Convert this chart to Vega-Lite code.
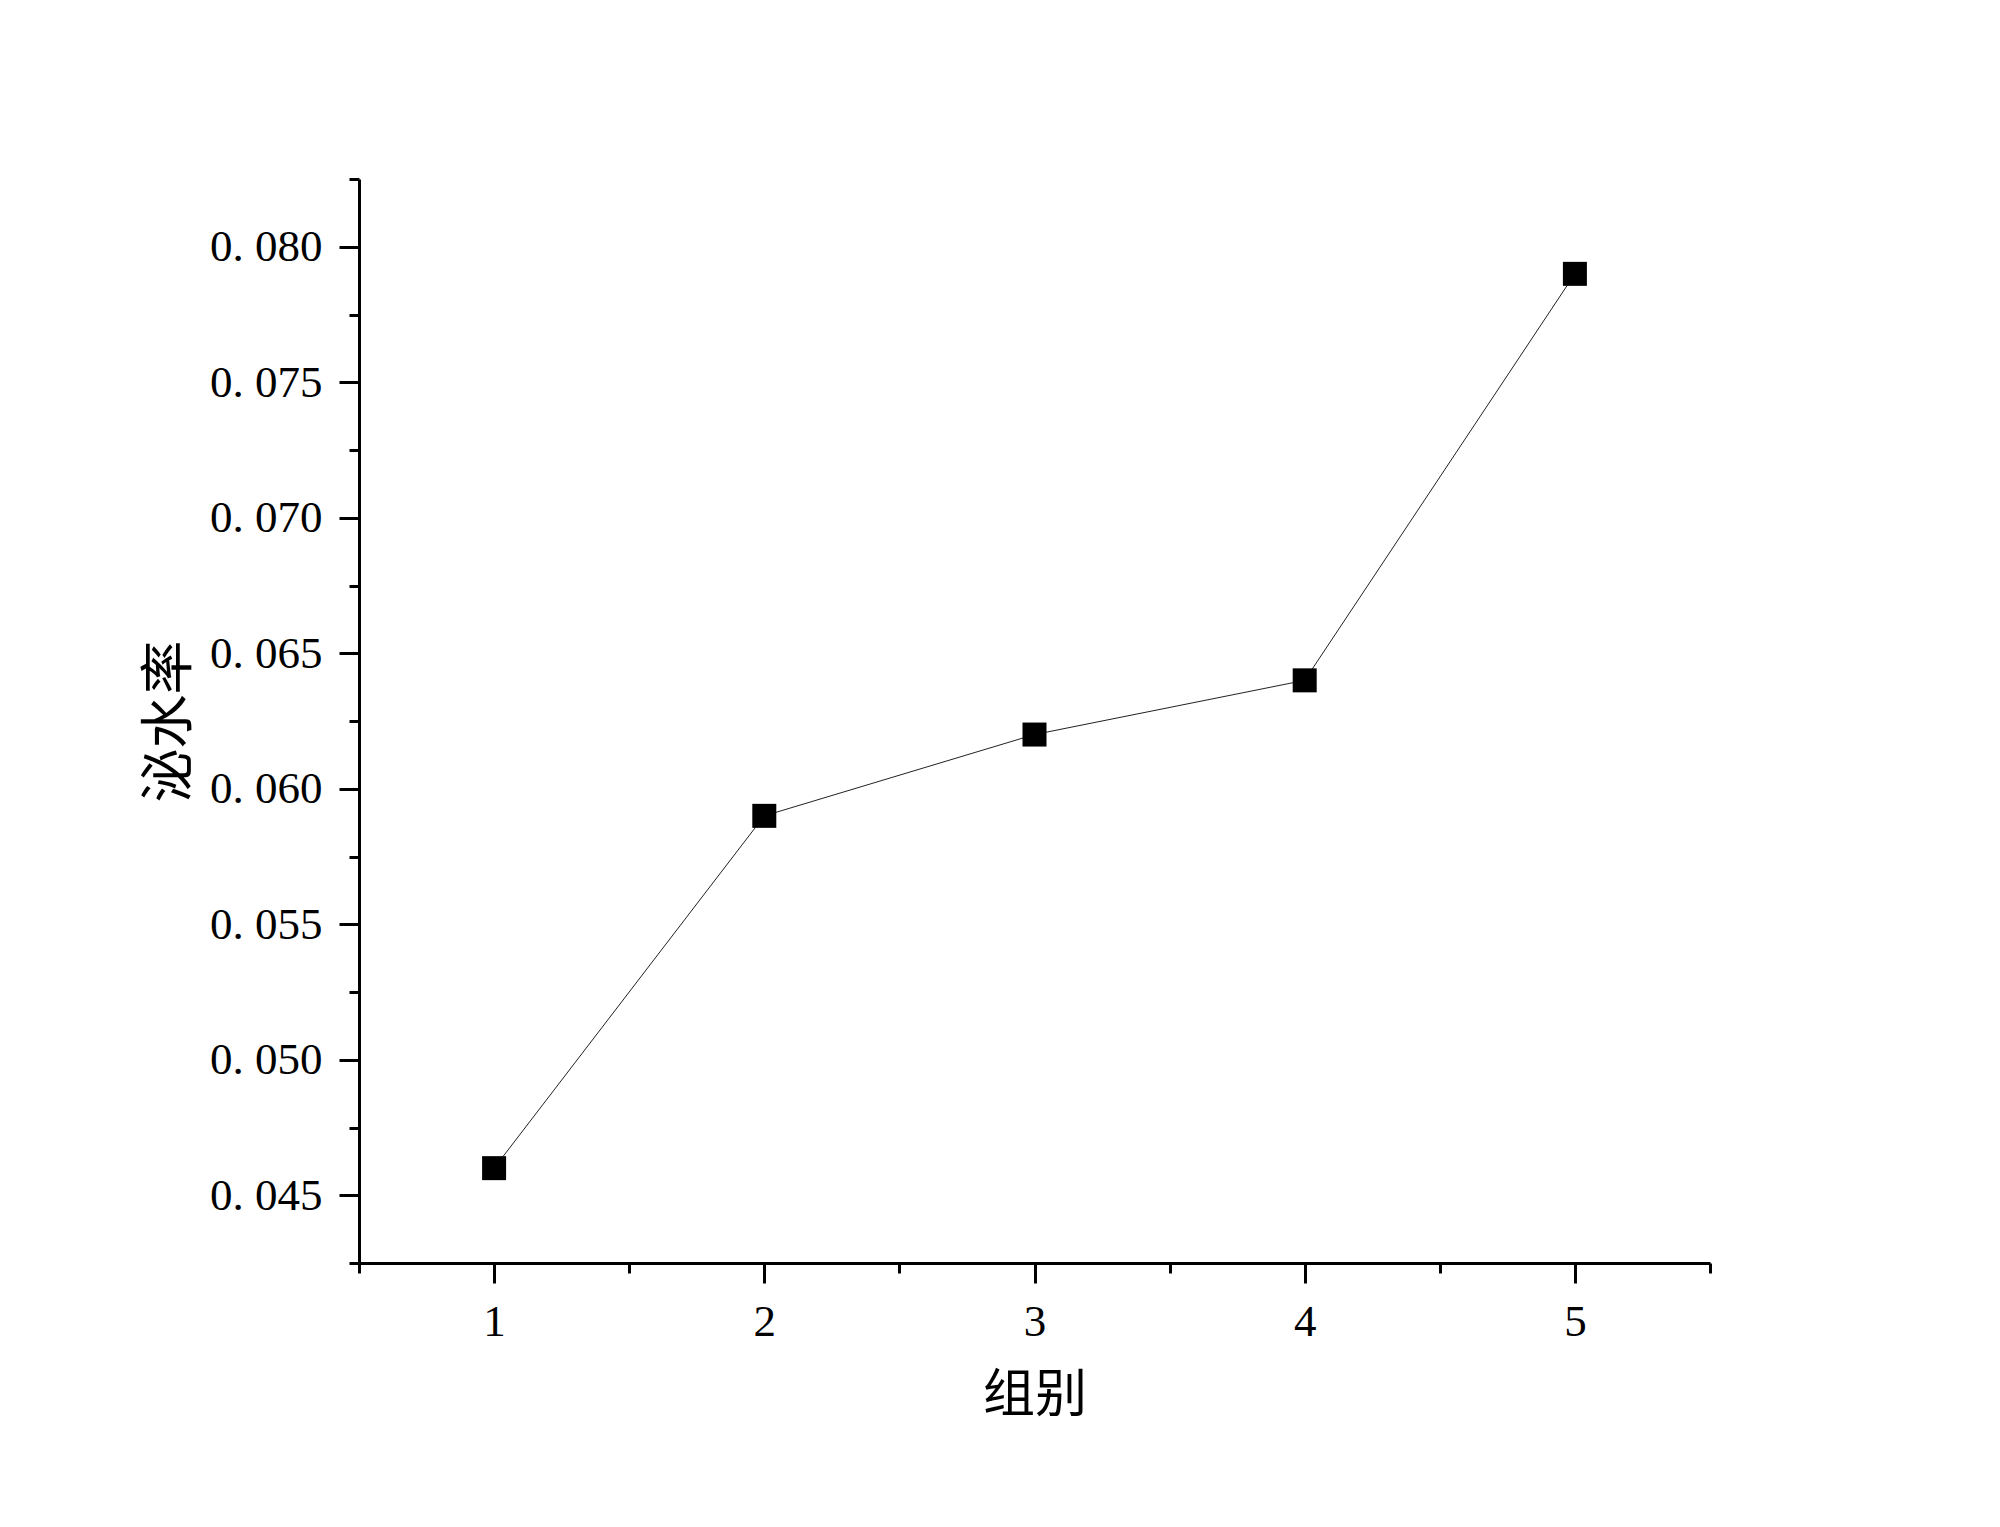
{
  "$schema": "https://vega.github.io/schema/vega-lite/v6.json",
  "width": 1351,
  "height": 1084,
  "autosize": "none",
  "padding": {"left": 359, "top": 179, "right": 290, "bottom": 264},
  "background": "white",
  "config": {"view": {"stroke": null}},
  "data": {"values": [
    {"group": 1, "rate": 0.046},
    {"group": 2, "rate": 0.059},
    {"group": 3, "rate": 0.062},
    {"group": 4, "rate": 0.064},
    {"group": 5, "rate": 0.079}
  ]},
  "encoding": {
    "x": {
      "field": "group", "type": "quantitative",
      "scale": {"domain": [0.5, 5.5], "nice": false, "zero": false},
      "axis": {
        "title": "组别",
        "values": [0.5, 1, 1.5, 2, 2.5, 3, 3.5, 4, 4.5, 5, 5.5],
        "labelExpr": "datum.value % 1 == 0 ? format(datum.value, 'd') : ''",
        "labelFont": "Liberation Serif",
        "labelFontSize": 45,
        "labelColor": "black",
        "labelPadding": 16,
        "labelOverlap": false,
        "labelFlush": false,
        "tickColor": "black",
        "tickWidth": 3,
        "tickSize": {"condition": {"test": "datum.value % 1 == 0", "value": 20}, "value": 10},
        "domainColor": "black",
        "domainWidth": 3,
        "grid": false,
        "titleFont": "Noto Sans CJK SC",
        "titleFontSize": 52,
        "titleFontWeight": "normal",
        "titleColor": "black",
        "titlePadding": 26
      }
    },
    "y": {
      "field": "rate", "type": "quantitative",
      "scale": {"domain": [0.0425, 0.0825], "nice": false, "zero": false},
      "axis": {
        "title": "泌水率",
        "values": [0.0425, 0.045, 0.0475, 0.05, 0.0525, 0.055, 0.0575, 0.06, 0.0625, 0.065, 0.0675, 0.07, 0.0725, 0.075, 0.0775, 0.08, 0.0825],
        "labelExpr": "abs(datum.value*200 - round(datum.value*200)) < 0.001 ? replace(format(datum.value, '.3f'), '.', '. ') : ''",
        "labelFont": "Liberation Serif",
        "labelFontSize": 45,
        "labelColor": "black",
        "labelPadding": 17,
        "labelOverlap": false,
        "labelFlush": false,
        "tickColor": "black",
        "tickWidth": 3,
        "tickSize": {"condition": {"test": "abs(datum.value*200 - round(datum.value*200)) < 0.001", "value": 20}, "value": 10},
        "domainColor": "black",
        "domainWidth": 3,
        "grid": false,
        "titleFont": "Noto Sans CJK SC",
        "titleFontSize": 54,
        "titleFontWeight": "normal",
        "titleColor": "black",
        "titlePadding": 12
      }
    }
  },
  "layer": [
    {"mark": {"type": "line", "color": "#222222", "strokeWidth": 1}},
    {"mark": {"type": "point", "shape": "square", "filled": true, "color": "black", "opacity": 1, "size": 576}}
  ]
}
